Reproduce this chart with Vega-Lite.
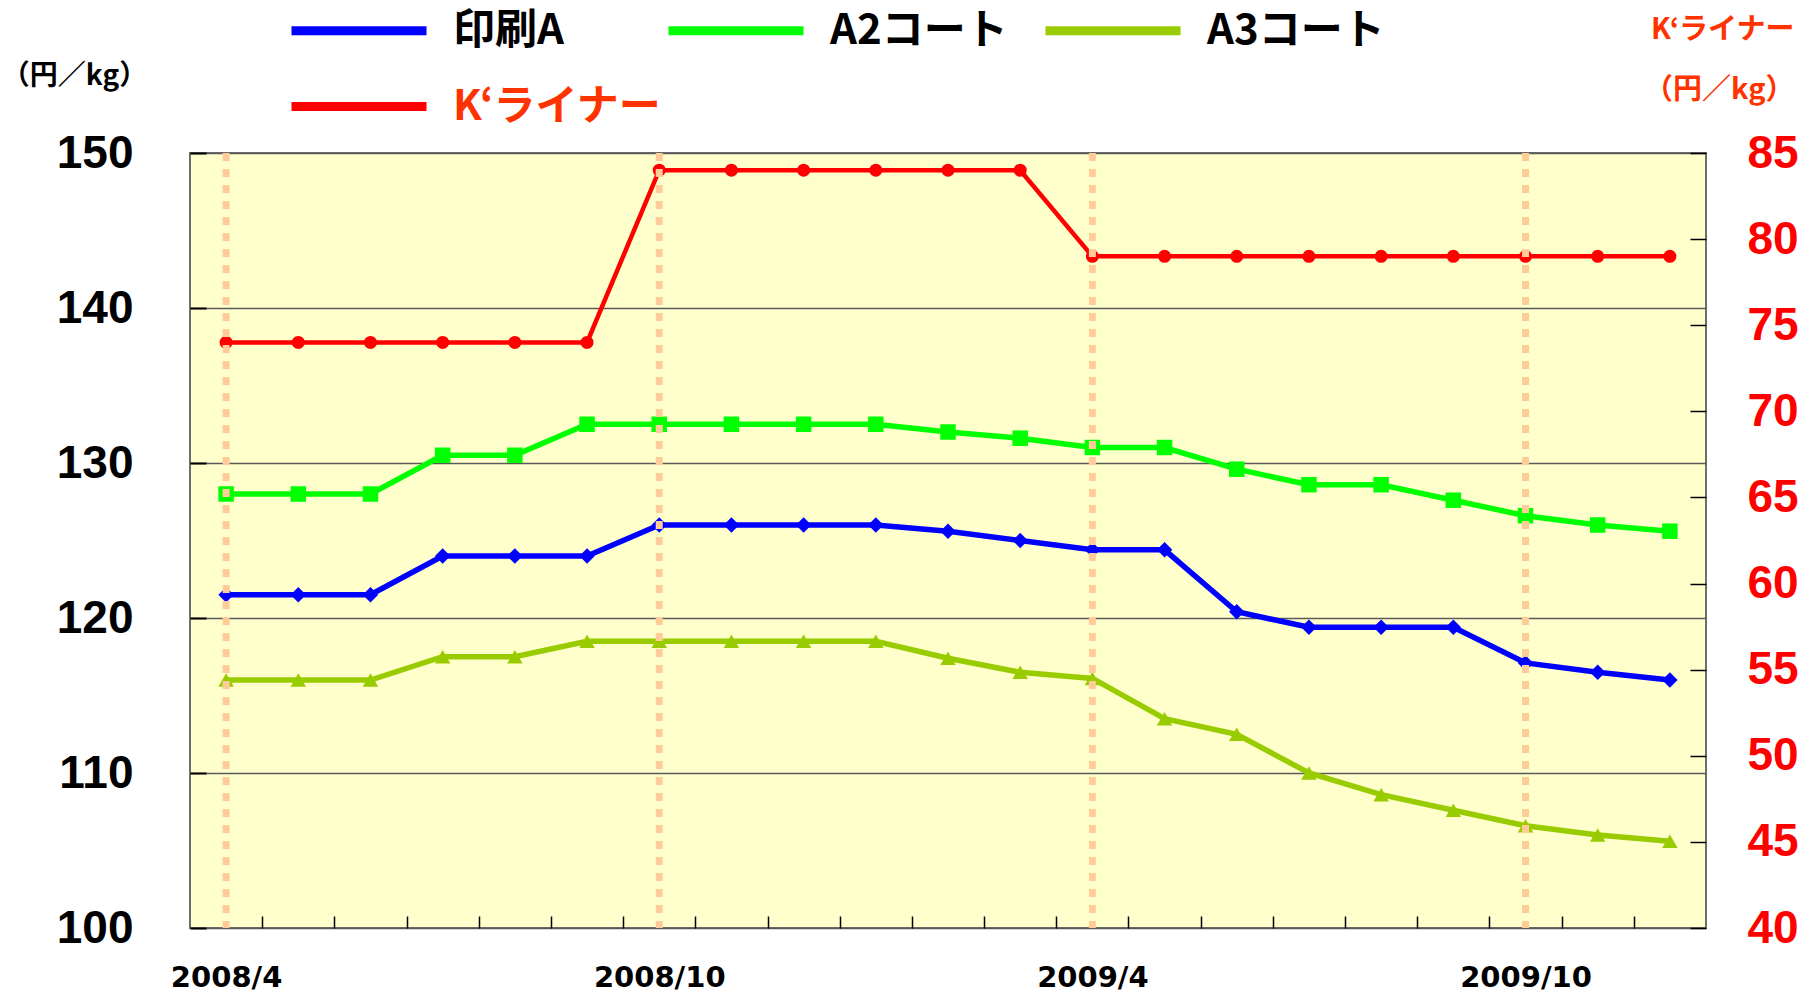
{
  "$schema": "https://vega.github.io/schema/vega-lite/v6.json",
  "width": 1516,
  "height": 775,
  "autosize": {"type": "none"},
  "padding": {"left": 190, "top": 153, "right": 92, "bottom": 66},
  "background": "#ffffff",
  "config": {
    "view": {"fill": "#FFFFCC", "stroke": "#6e6e6e", "strokeWidth": 2},
    "font": "Noto Sans CJK JP"
  },
  "data": {
    "values": [
      {"month": "2008/4", "i": 0, "series": "印刷A", "value": 121.5},
      {"month": "2008/5", "i": 1, "series": "印刷A", "value": 121.5},
      {"month": "2008/6", "i": 2, "series": "印刷A", "value": 121.5},
      {"month": "2008/7", "i": 3, "series": "印刷A", "value": 124},
      {"month": "2008/8", "i": 4, "series": "印刷A", "value": 124},
      {"month": "2008/9", "i": 5, "series": "印刷A", "value": 124},
      {"month": "2008/10", "i": 6, "series": "印刷A", "value": 126},
      {"month": "2008/11", "i": 7, "series": "印刷A", "value": 126},
      {"month": "2008/12", "i": 8, "series": "印刷A", "value": 126},
      {"month": "2009/1", "i": 9, "series": "印刷A", "value": 126},
      {"month": "2009/2", "i": 10, "series": "印刷A", "value": 125.6},
      {"month": "2009/3", "i": 11, "series": "印刷A", "value": 125},
      {"month": "2009/4", "i": 12, "series": "印刷A", "value": 124.4},
      {"month": "2009/5", "i": 13, "series": "印刷A", "value": 124.4},
      {"month": "2009/6", "i": 14, "series": "印刷A", "value": 120.4},
      {"month": "2009/7", "i": 15, "series": "印刷A", "value": 119.4},
      {"month": "2009/8", "i": 16, "series": "印刷A", "value": 119.4},
      {"month": "2009/9", "i": 17, "series": "印刷A", "value": 119.4},
      {"month": "2009/10", "i": 18, "series": "印刷A", "value": 117.1},
      {"month": "2009/11", "i": 19, "series": "印刷A", "value": 116.5},
      {"month": "2009/12", "i": 20, "series": "印刷A", "value": 116},
      {"month": "2008/4", "i": 0, "series": "A2コート", "value": 128},
      {"month": "2008/5", "i": 1, "series": "A2コート", "value": 128},
      {"month": "2008/6", "i": 2, "series": "A2コート", "value": 128},
      {"month": "2008/7", "i": 3, "series": "A2コート", "value": 130.5},
      {"month": "2008/8", "i": 4, "series": "A2コート", "value": 130.5},
      {"month": "2008/9", "i": 5, "series": "A2コート", "value": 132.5},
      {"month": "2008/10", "i": 6, "series": "A2コート", "value": 132.5},
      {"month": "2008/11", "i": 7, "series": "A2コート", "value": 132.5},
      {"month": "2008/12", "i": 8, "series": "A2コート", "value": 132.5},
      {"month": "2009/1", "i": 9, "series": "A2コート", "value": 132.5},
      {"month": "2009/2", "i": 10, "series": "A2コート", "value": 132},
      {"month": "2009/3", "i": 11, "series": "A2コート", "value": 131.6},
      {"month": "2009/4", "i": 12, "series": "A2コート", "value": 131},
      {"month": "2009/5", "i": 13, "series": "A2コート", "value": 131},
      {"month": "2009/6", "i": 14, "series": "A2コート", "value": 129.6},
      {"month": "2009/7", "i": 15, "series": "A2コート", "value": 128.6},
      {"month": "2009/8", "i": 16, "series": "A2コート", "value": 128.6},
      {"month": "2009/9", "i": 17, "series": "A2コート", "value": 127.6},
      {"month": "2009/10", "i": 18, "series": "A2コート", "value": 126.6},
      {"month": "2009/11", "i": 19, "series": "A2コート", "value": 126},
      {"month": "2009/12", "i": 20, "series": "A2コート", "value": 125.6},
      {"month": "2008/4", "i": 0, "series": "A3コート", "value": 116},
      {"month": "2008/5", "i": 1, "series": "A3コート", "value": 116},
      {"month": "2008/6", "i": 2, "series": "A3コート", "value": 116},
      {"month": "2008/7", "i": 3, "series": "A3コート", "value": 117.5},
      {"month": "2008/8", "i": 4, "series": "A3コート", "value": 117.5},
      {"month": "2008/9", "i": 5, "series": "A3コート", "value": 118.5},
      {"month": "2008/10", "i": 6, "series": "A3コート", "value": 118.5},
      {"month": "2008/11", "i": 7, "series": "A3コート", "value": 118.5},
      {"month": "2008/12", "i": 8, "series": "A3コート", "value": 118.5},
      {"month": "2009/1", "i": 9, "series": "A3コート", "value": 118.5},
      {"month": "2009/2", "i": 10, "series": "A3コート", "value": 117.4},
      {"month": "2009/3", "i": 11, "series": "A3コート", "value": 116.5},
      {"month": "2009/4", "i": 12, "series": "A3コート", "value": 116.1},
      {"month": "2009/5", "i": 13, "series": "A3コート", "value": 113.5},
      {"month": "2009/6", "i": 14, "series": "A3コート", "value": 112.5},
      {"month": "2009/7", "i": 15, "series": "A3コート", "value": 110},
      {"month": "2009/8", "i": 16, "series": "A3コート", "value": 108.6},
      {"month": "2009/9", "i": 17, "series": "A3コート", "value": 107.6},
      {"month": "2009/10", "i": 18, "series": "A3コート", "value": 106.6},
      {"month": "2009/11", "i": 19, "series": "A3コート", "value": 106},
      {"month": "2009/12", "i": 20, "series": "A3コート", "value": 105.6},
      {"month": "2008/4", "i": 0, "series": "K‘ライナー", "value": 74},
      {"month": "2008/5", "i": 1, "series": "K‘ライナー", "value": 74},
      {"month": "2008/6", "i": 2, "series": "K‘ライナー", "value": 74},
      {"month": "2008/7", "i": 3, "series": "K‘ライナー", "value": 74},
      {"month": "2008/8", "i": 4, "series": "K‘ライナー", "value": 74},
      {"month": "2008/9", "i": 5, "series": "K‘ライナー", "value": 74},
      {"month": "2008/10", "i": 6, "series": "K‘ライナー", "value": 84},
      {"month": "2008/11", "i": 7, "series": "K‘ライナー", "value": 84},
      {"month": "2008/12", "i": 8, "series": "K‘ライナー", "value": 84},
      {"month": "2009/1", "i": 9, "series": "K‘ライナー", "value": 84},
      {"month": "2009/2", "i": 10, "series": "K‘ライナー", "value": 84},
      {"month": "2009/3", "i": 11, "series": "K‘ライナー", "value": 84},
      {"month": "2009/4", "i": 12, "series": "K‘ライナー", "value": 79},
      {"month": "2009/5", "i": 13, "series": "K‘ライナー", "value": 79},
      {"month": "2009/6", "i": 14, "series": "K‘ライナー", "value": 79},
      {"month": "2009/7", "i": 15, "series": "K‘ライナー", "value": 79},
      {"month": "2009/8", "i": 16, "series": "K‘ライナー", "value": 79},
      {"month": "2009/9", "i": 17, "series": "K‘ライナー", "value": 79},
      {"month": "2009/10", "i": 18, "series": "K‘ライナー", "value": 79},
      {"month": "2009/11", "i": 19, "series": "K‘ライナー", "value": 79},
      {"month": "2009/12", "i": 20, "series": "K‘ライナー", "value": 79}
    ]
  },
  "layer": [
    {
      "transform": [{"filter": "datum.series !== 'K‘ライナー'"}],
      "encoding": {
        "x": {
          "field": "i", "type": "quantitative",
          "scale": {"domain": [-0.5, 20.5], "nice": false, "zero": false},
          "axis": {
            "orient": "bottom", "values": [0, 6, 12, 18],
            "labelExpr": "datum.value == 0 ? '2008/4' : datum.value == 6 ? '2008/10' : datum.value == 12 ? '2009/4' : '2009/10'",
            "ticks": false, "domain": false, "grid": false,
            "labelFont": "DejaVu Sans", "labelFontSize": 29, "labelFontWeight": "bold",
            "labelColor": "#000000", "labelPadding": 35, "labelBaseline": "top",
            "labelFlush": false, "title": null
          }
        },
        "y": {
          "field": "value", "type": "quantitative",
          "scale": {"domain": [100, 150], "nice": false, "zero": false},
          "axis": {
            "orient": "left", "values": [100, 110, 120, 130, 140, 150],
            "grid": true, "gridColor": "#5a5a5a", "gridWidth": 1.5,
            "domain": false, "tickSize": -16, "tickColor": "#000000", "tickWidth": 2,
            "labelFont": "Liberation Sans", "labelFontSize": 46, "labelFontWeight": "bold",
            "labelColor": "#000000", "labelPadding": 73,
            "title": "（円／kg）", "titleAngle": 0, "titleX": -116, "titleY": -77,
            "titleAlign": "center", "titleBaseline": "middle",
            "titleFont": "Noto Sans CJK JP", "titleFontSize": 28, "titleFontWeight": "bold",
            "titleColor": "#000000"
          }
        },
        "color": {
          "field": "series", "type": "nominal",
          "scale": {
            "domain": ["印刷A", "A2コート", "A3コート", "K‘ライナー"],
            "range": ["#0000FF", "#00FF00", "#99CC00", "#FF0000"]
          },
          "legend": {
            "orient": "none", "legendX": 97, "legendY": -147,
            "direction": "horizontal", "columns": 3, "gridAlign": "all",
            "symbolType": "M-1,0H5.75", "symbolSize": 1600, "symbolStrokeWidth": 9,
            "labelFont": "Noto Sans CJK JP", "labelFontSize": 42, "labelFontWeight": "bold",
            "labelColor": {"expr": "datum.label === 'K‘ライナー' ? '#FF3300' : '#000000'"},
            "labelOffset": 117, "columnPadding": -12, "rowPadding": 30, "padding": 0,
            "title": null, "labelLimit": 400
          }
        }
      },
      "layer": [
        {"mark": {"type": "line", "strokeWidth": 5.5}},
        {
          "mark": {"type": "point", "filled": true, "opacity": 1, "size": 240},
          "encoding": {
            "shape": {
              "field": "series", "type": "nominal",
              "scale": {"domain": ["印刷A", "A2コート", "A3コート"], "range": ["diamond", "square", "triangle-up"]},
              "legend": null
            }
          }
        }
      ]
    },
    {
      "transform": [{"filter": "datum.series === 'K‘ライナー'"}],
      "encoding": {
        "x": {"field": "i", "type": "quantitative", "axis": null},
        "y": {
          "field": "value", "type": "quantitative",
          "scale": {"domain": [40, 85], "nice": false, "zero": false},
          "axis": {
            "orient": "right", "values": [40, 45, 50, 55, 60, 65, 70, 75, 80, 85],
            "grid": false, "domain": false, "tickSize": -16, "tickColor": "#000000", "tickWidth": 1.5,
            "labelFont": "Liberation Sans", "labelFontSize": 46, "labelFontWeight": "bold",
            "labelColor": "#FF0000", "labelPadding": 57,
            "title": ["K‘ライナー", "（円／kg）"], "titleAngle": 0, "titleX": 88, "titleY": -115,
            "titleAlign": "right", "titleBaseline": "alphabetic", "titleLineHeight": 60,
            "titleFont": "Noto Sans CJK JP", "titleFontSize": 29, "titleFontWeight": "bold",
            "titleColor": "#FF3300"
          }
        },
        "color": {"field": "series", "type": "nominal"}
      },
      "layer": [
        {"mark": {"type": "line", "strokeWidth": 4.5}},
        {"mark": {"type": "point", "filled": true, "opacity": 1, "shape": "circle", "size": 170}}
      ]
    },
    {
      "data": {
        "values": [
          {"month": "2008/4", "i": 0},
          {"month": "2008/10", "i": 6},
          {"month": "2009/4", "i": 12},
          {"month": "2009/10", "i": 18}
        ]
      },
      "mark": {"type": "rule", "color": "#FFCC99", "strokeWidth": 7, "strokeDash": [8, 8]},
      "encoding": {
        "x": {
          "field": "i", "type": "quantitative",
          "axis": {
            "orient": "bottom",
            "values": [0.5, 1.5, 2.5, 3.5, 4.5, 5.5, 6.5, 7.5, 8.5, 9.5, 10.5, 11.5, 12.5, 13.5, 14.5, 15.5, 16.5, 17.5, 18.5, 19.5],
            "labels": false, "domain": false, "grid": false, "ticks": true,
            "tickSize": -12, "tickColor": "#000000", "tickWidth": 1.5, "title": null
          }
        }
      }
    }
  ],
  "resolve": {"scale": {"y": "independent"}, "axis": {"x": "independent"}}
}
